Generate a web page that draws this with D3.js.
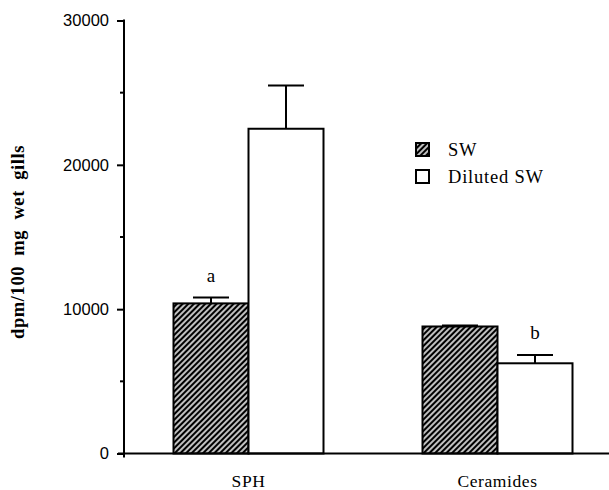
<!DOCTYPE html>
<html>
<head>
<meta charset="utf-8">
<script src="https://cdn.jsdelivr.net/npm/d3@7"></script>
<style>
  body { margin: 0; background: #fff; }
  svg { display: block; }
  .tick-lbl { font-family: "Liberation Sans", Arial, sans-serif; font-size: 16.5px; }
  .serif { font-family: "Liberation Serif", "Times New Roman", serif; }
</style>
</head>
<body>
<svg id="chart" width="609" height="490"></svg>
<script>
// data
var categories = ['SPH', 'Ceramides'];
var seriesNames = ['SW', 'Diluted SW'];
var swValues = [10400, 8800];
var swErrors = [400, 60];
var dilutedValues = [22500, 6250];
var dilutedErrors = [3000, 580];
var sigLetters = [['a', ''], ['', 'b']]; // [category][series]
var yTicks = [0, 10000, 20000, 30000];
var yMinorTicks = [5000, 15000, 25000];

var svg = d3.select('#chart');

var y = d3.scaleLinear().domain([0, 30000]).range([453.5, 20.5]);
var x0 = d3.scalePoint().domain(categories).range([124, 622]).padding(0.5);
var x1 = d3.scaleBand().domain(seriesNames).range([-75, 75]);

// hatch pattern for SW bars
var defs = svg.append('defs');
var pat = defs.append('pattern')
  .attr('id', 'hatch')
  .attr('patternUnits', 'userSpaceOnUse')
  .attr('width', 4).attr('height', 4)
  .attr('patternTransform', 'rotate(45)');
pat.append('rect').attr('width', 4).attr('height', 4).attr('fill', '#000');
pat.append('line').attr('x1', 2).attr('y1', 0).attr('x2', 2).attr('y2', 4)
  .attr('stroke', '#fff').attr('stroke-width', 1.5);

// build rows
var rows = [];
categories.forEach(function(c, i) {
  rows.push({cat: c, s: seriesNames[0], v: swValues[i], e: swErrors[i], lbl: sigLetters[i][0]});
  rows.push({cat: c, s: seriesNames[1], v: dilutedValues[i], e: dilutedErrors[i], lbl: sigLetters[i][1]});
});

function fillFor(s) { return s == 'SW' ? 'url(#hatch)' : '#fff'; }

// bars
svg.append('g').selectAll('rect')
  .data(rows).enter().append('rect')
  .attr('x', function(d) { return x0(d.cat) + x1(d.s); })
  .attr('y', function(d) { return y(d.v); })
  .attr('width', x1.bandwidth())
  .attr('height', function(d) { return y(0) - y(d.v); })
  .attr('fill', function(d) { return fillFor(d.s); })
  .attr('stroke', '#000')
  .attr('stroke-width', 2);

// error bars (upper only)
var eb = svg.append('g').attr('stroke', '#000').attr('stroke-width', 2);
rows.forEach(function(d) {
  var cx = x0(d.cat) + x1(d.s) + x1.bandwidth() / 2;
  eb.append('line').attr('x1', cx).attr('x2', cx)
    .attr('y1', y(d.v)).attr('y2', y(d.v + d.e));
  eb.append('line').attr('x1', cx - 18).attr('x2', cx + 18)
    .attr('y1', y(d.v + d.e)).attr('y2', y(d.v + d.e));
  if (d.lbl) {
    svg.append('text').attr('class', 'serif')
      .attr('x', cx).attr('y', y(d.v + d.e) - 16)
      .attr('text-anchor', 'middle')
      .style('font-size', '19px')
      .text(d.lbl);
  }
});

// y axis
var yAxis = d3.axisLeft(y).tickValues(yTicks).tickSize(7).tickPadding(8).tickFormat(d3.format('d'));
var gy = svg.append('g').attr('transform', 'translate(124,0)').call(yAxis);
gy.select('.domain').remove();
gy.selectAll('.tick line').attr('stroke-width', 2);
gy.selectAll('.tick text').attr('class', 'tick-lbl').attr('font-size', null).attr('font-family', null);
gy.attr('font-size', null).attr('font-family', null);
svg.append('line').attr('x1', 124).attr('x2', 124).attr('y1', y(30000) - 1).attr('y2', y(0) + 4)
  .attr('stroke', '#000').attr('stroke-width', 2);
svg.append('g').selectAll('line').data(yMinorTicks).enter().append('line')
  .attr('x1', 120).attr('x2', 124)
  .attr('y1', function(d) { return y(d); }).attr('y2', function(d) { return y(d); })
  .attr('stroke', '#000').attr('stroke-width', 2);

// x axis baseline
svg.append('line').attr('x1', 118).attr('x2', 609).attr('y1', y(0)).attr('y2', y(0))
  .attr('stroke', '#000').attr('stroke-width', 2);

// category labels
svg.append('g').selectAll('text').data(categories).enter().append('text')
  .attr('class', 'serif')
  .attr('x', function(d) { return x0(d); })
  .attr('y', 487)
  .attr('text-anchor', 'middle')
  .style('font-size', '17.5px')
  .style('letter-spacing', '0.6px')
  .text(function(d) { return d; });

// y label
svg.append('text').attr('class', 'serif')
  .attr('transform', 'translate(24,242) rotate(-90)')
  .attr('text-anchor', 'middle')
  .style('font-size', '18.5px')
  .style('font-weight', 'bold')
  .style('letter-spacing', '0.6px')
  .style('word-spacing', '5px')
  .text('dpm/100 mg wet gills');

// legend
var leg = svg.append('g').selectAll('g').data(seriesNames).enter().append('g')
  .attr('transform', function(d, i) { return 'translate(416,' + (143 + i * 27) + ')'; });
leg.append('rect').attr('width', 13).attr('height', 13)
  .attr('fill', function(d) { return fillFor(d); })
  .attr('stroke', '#000').attr('stroke-width', 2);
leg.append('text').attr('class', 'serif')
  .attr('x', 32).attr('y', 13)
  .style('font-size', '18.5px')
  .style('letter-spacing', '0.8px')
  .text(function(d) { return d; });
</script>
</body>
</html>
